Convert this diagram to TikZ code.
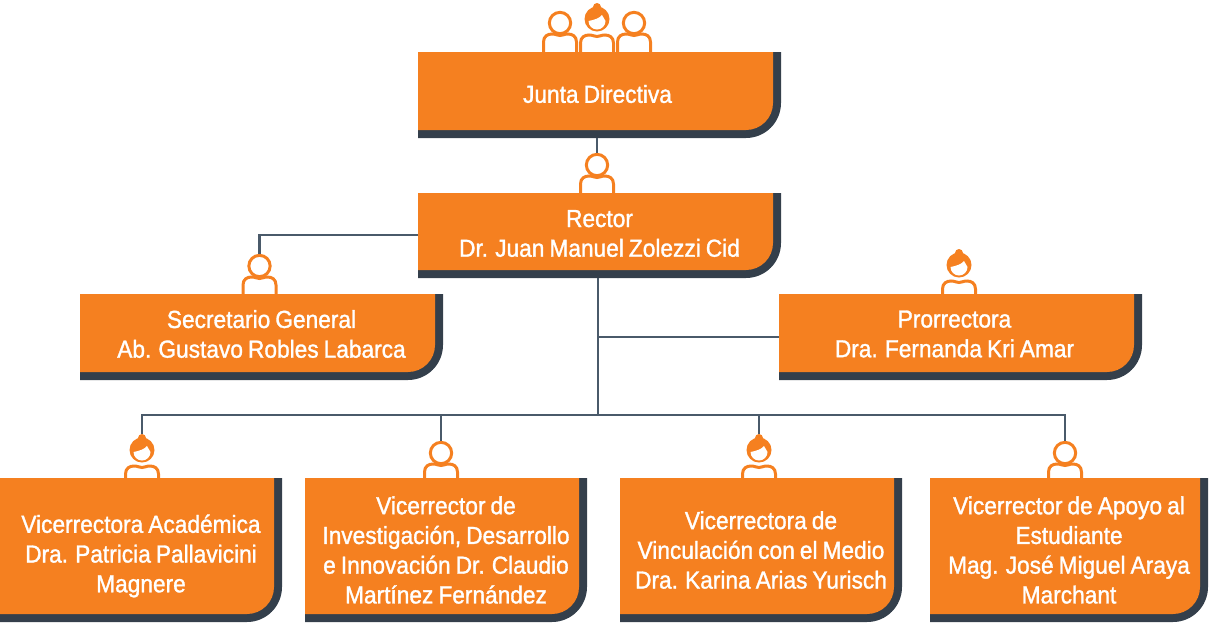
\documentclass[tikz,border=0pt]{standalone}
\usepackage{fontspec}
\setmainfont{Liberation Sans}[FakeStretch=0.92,FakeBold=1.3,WordSpace=0.8]
\usepackage{xcolor}
\usetikzlibrary{calc}
\definecolor{naranja}{HTML}{F58020}
\definecolor{sombra}{HTML}{343F4B}
\definecolor{linea}{HTML}{4A5A6A}

\begin{document}
\begin{tikzpicture}[x=0.75pt,y=-0.75pt]
            \tikzset{cargo/.style = {text=white,align=center,inner sep=0pt,font=\fontsize{18.5}{22.3}\selectfont}}
            \tikzset{conector/.style = {draw=linea,line width=1.7pt}}
            \tikzset{trazo/.style = {draw=naranja,line width=2.25pt}}
            \tikzset{hombre/.pic = {
              \node[circle,trazo,inner sep=0pt,minimum size=16pt] (-top) at (0,0) {};
              \draw[trazo] (-16.5,45) -- (-16.5,19) .. controls (-16.5,13) and (-12,11) .. (-8,11) .. controls (-4,11) and (-3,12.5) .. (0,12.5) .. controls (3,12.5) and (4,11) .. (8,11) .. controls (12,11) and (16.5,13) .. (16.5,19) -- (16.5,45);
            }}
            \tikzset{mujer/.pic = {
              \fill[naranja] (0,0) circle (12.5);
              \node[circle,fill=naranja,inner sep=0pt,minimum size=6pt] (-top) at (0,-12) {};
              \fill[white] (-8.5,2) .. controls (-3,1) and (3,-1) .. (5,-4) .. controls (6,-2) and (7.5,0) .. (8.5,2) arc (0:180:8.5) -- cycle;
              \draw[trazo] (-16.5,45) -- (-16.5,24) .. controls (-16.5,18) and (-12,16) .. (-8,16) .. controls (-4,16) and (-3,17.5) .. (0,17.5) .. controls (3,17.5) and (4,16) .. (8,16) .. controls (12,16) and (16.5,18) .. (16.5,24) -- (16.5,45);
            }}
            \useasboundingbox (0,0) rectangle (1210,622);

            % icons
            \foreach \x/\xc/\yc in {juntaa/560/23,juntac/634/23,rector/597/165,secretario/259.5/266,vicedos/441/453,vicecuatro/1065/453}
            {
              \pic (\x) at (\xc,\yc) {hombre};
            }
            \foreach \x/\xc/\yc in {juntab/597/19,prorrectora/959/265,viceuno/142/450,vicetres/759/450}
            {
              \pic (\x) at (\xc,\yc) {mujer};
            }

            % boxes
            \foreach \x/\xa/\xb/\ya/\yb/\dx/\dy/\txt in {
              junta/418/781/52/138/-2/1/{Junta Directiva},
              rectoria/418/781/193/278/0/0/{Rector\\Dr. Juan Manuel Zolezzi Cid},
              secretaria/80/443/294/380/0/-1/{Secretario General\\Ab. Gustavo Robles Labarca},
              prorrectoria/779/1142/294/380/-6/-1/{Prorrectora\\Dra. Fernanda Kri Amar},
              vpa/0/282/478/622/0/8/{Vicerrectora Académica\\Dra. Patricia Pallavicini\\Magnere},
              vpb/305/587/478/622/0/2/{Vicerrector de\\Investigación, Desarrollo\\e Innovación Dr. Claudio\\Martínez Fernández},
              vpc/620/902/478/622/0/2/{Vicerrectora de\\Vinculación con el Medio\\Dra. Karina Arias Yurisch},
              vpd/930/1208/478/622/0/2/{Vicerrector de Apoyo al\\Estudiante\\Mag. José Miguel Araya\\Marchant}}
            {
              \fill[sombra] (\xa,\ya) -- (\xb,\ya) -- (\xb,{\yb-35}) arc (0:90:35) -- (\xa,\yb) -- cycle;
              \fill[naranja] (\xa,\ya) -- ({\xb-8},\ya) -- ({\xb-8},{\yb-35}) arc (0:90:27) -- (\xa,{\yb-8}) -- cycle;
              \node[cargo,minimum width={(\xb-\xa)*0.75pt},minimum height={(\yb-\ya)*0.75pt}] (\x) at ({(\xa+\xb)/2},{(\ya+\yb)/2}) {};
              \node[cargo] (\x-txt) at ($(\x.center)+(\dx,\dy-2)$) {\txt};
            }

            % edges
            \coordinate (tronco) at (598,415);
            \coordinate (rectorizq) at (418,235);
            \draw[conector] (rector-top |- junta.south) -- (rector-top.north);
            \draw[conector] (rectorizq) -| (secretario-top.north);
            \draw[conector] (tronco |- rectoria.south) -- (tronco);
            \draw[conector] (tronco |- prorrectoria.west) -- (prorrectoria.west);
            \foreach \y in {viceuno,vicedos,vicetres,vicecuatro} {\draw[conector] (tronco) -| (\y-top.north);}
\end{tikzpicture}
\end{document}
